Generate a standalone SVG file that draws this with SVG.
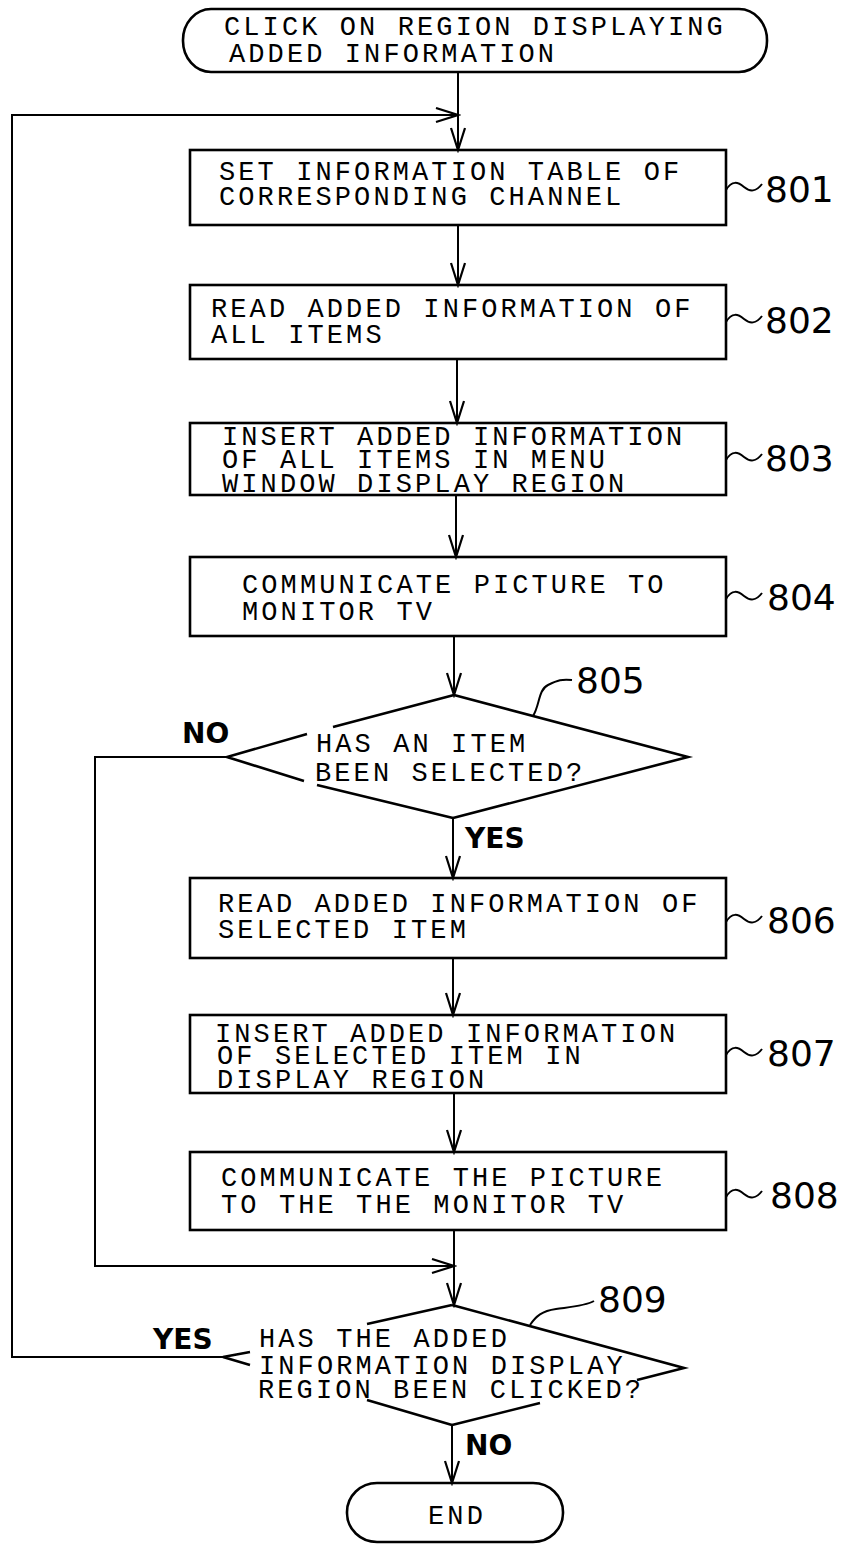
<svg xmlns="http://www.w3.org/2000/svg" width="847" height="1544" viewBox="0 0 847 1544">
<defs>
<style>
.shape{fill:none;stroke:#000;stroke-width:2.6}
.ln{fill:none;stroke:#000;stroke-width:2}
.t{font-family:"Liberation Mono","Courier New",monospace;font-size:27px;letter-spacing:3.1px;fill:#000}
.lab{font-family:"DejaVu Sans","Liberation Sans",sans-serif;font-size:36px;fill:#000}
.yn{font-family:"DejaVu Sans","Liberation Sans",sans-serif;font-weight:bold;font-size:28px;fill:#000}
</style>
<marker id="ah" markerUnits="userSpaceOnUse" markerWidth="26" markerHeight="18" refX="23" refY="8" orient="auto" viewBox="0 0 26 18">
<path d="M1,1 L23,8 L1,15" fill="none" stroke="#000" stroke-width="2.2"/>
</marker>
</defs>
<rect width="847" height="1544" fill="#fff"/>

<g id="connectors">
<path class="ln" d="M458,72 V150" marker-end="url(#ah)"/>
<path class="ln" d="M223,1357 H12 V115 H458" marker-end="url(#ah)"/>
<path class="ln" d="M458,225 V285" marker-end="url(#ah)"/>
<path class="ln" d="M457,359 V423" marker-end="url(#ah)"/>
<path class="ln" d="M456,495 V557" marker-end="url(#ah)"/>
<path class="ln" d="M454,636 V695" marker-end="url(#ah)"/>
<path class="ln" d="M453,818 V878" marker-end="url(#ah)"/>
<path class="ln" d="M453,958 V1015" marker-end="url(#ah)"/>
<path class="ln" d="M454,1093 V1152" marker-end="url(#ah)"/>
<path class="ln" d="M454,1230 V1305" marker-end="url(#ah)"/>
<path class="ln" d="M227,757 H95 V1266 H454" marker-end="url(#ah)"/>
<path class="ln" d="M452,1425 V1483" marker-end="url(#ah)"/>
<text class="yn" x="182" y="743">NO</text>
<text class="yn" x="465" y="848">YES</text>
<text class="yn" x="153" y="1349">YES</text>
<text class="yn" x="465" y="1455">NO</text>
</g>

<g id="start">
<rect class="shape" x="183" y="9" width="584" height="63" rx="28" ry="31"/>
<text class="t" x="224" y="35">CLICK ON REGION DISPLAYING</text>
<text class="t" x="229" y="62">ADDED INFORMATION</text>
</g>

<g id="n801">
<rect class="shape" x="190" y="150" width="536" height="75"/>
<text class="t" x="219" y="180">SET INFORMATION TABLE OF</text>
<text class="t" x="219" y="205">CORRESPONDING CHANNEL</text>
<path class="ln" d="M726,190 C732,180 738,182 744,187 S756,192 762,184"/>
<text class="lab" x="765" y="202">801</text>
</g>

<g id="n802">
<rect class="shape" x="190" y="285" width="536" height="74"/>
<text class="t" x="211" y="317">READ ADDED INFORMATION OF</text>
<text class="t" x="211" y="343">ALL ITEMS</text>
<path class="ln" d="M726,322 C732,312 738,314 744,319 S756,324 762,316"/>
<text class="lab" x="765" y="333">802</text>
</g>

<g id="n803">
<rect class="shape" x="190" y="423" width="536" height="72"/>
<text class="t" x="222" y="445">INSERT ADDED INFORMATION</text>
<text class="t" x="222" y="468">OF ALL ITEMS IN MENU</text>
<text class="t" x="222" y="492">WINDOW DISPLAY REGION</text>
<path class="ln" d="M726,460 C732,450 738,452 744,457 S756,462 762,454"/>
<text class="lab" x="765" y="471">803</text>
</g>

<g id="n804">
<rect class="shape" x="190" y="557" width="536" height="79"/>
<text class="t" x="242" y="593">COMMUNICATE PICTURE TO</text>
<text class="t" x="242" y="620">MONITOR TV</text>
<path class="ln" d="M726,599 C732,589 738,591 744,596 S756,601 762,593"/>
<text class="lab" x="767" y="610">804</text>
</g>

<g id="n805">
<path class="shape" d="M454,695 L688,757 L453,818"/>
<path class="shape" d="M454,695 L333,727 M307,734 L227,757 L304,781 M317,785 L453,818"/>
<text class="t" x="316" y="752">HAS AN ITEM</text>
<text class="t" x="315" y="781">BEEN SELECTED?</text>
<path class="ln" d="M533,716 C540,705 538,690 548,685 S562,679 572,680"/>
<text class="lab" x="576" y="693">805</text>
</g>

<g id="n806">
<rect class="shape" x="190" y="878" width="536" height="80"/>
<text class="t" x="218" y="912">READ ADDED INFORMATION OF</text>
<text class="t" x="218" y="938">SELECTED ITEM</text>
<path class="ln" d="M726,922 C732,912 738,914 744,919 S756,924 762,916"/>
<text class="lab" x="767" y="933">806</text>
</g>

<g id="n807">
<rect class="shape" x="190" y="1015" width="536" height="78"/>
<text class="t" x="215" y="1042">INSERT ADDED INFORMATION</text>
<text class="t" x="217" y="1064">OF SELECTED ITEM IN</text>
<text class="t" x="217" y="1088">DISPLAY REGION</text>
<path class="ln" d="M726,1055 C732,1045 738,1047 744,1052 S756,1057 762,1049"/>
<text class="lab" x="767" y="1066">807</text>
</g>

<g id="n808">
<rect class="shape" x="190" y="1152" width="536" height="78"/>
<text class="t" x="221" y="1186">COMMUNICATE THE PICTURE</text>
<text class="t" x="221" y="1213">TO THE THE MONITOR TV</text>
<path class="ln" d="M726,1197 C732,1187 738,1189 744,1194 S756,1199 762,1191"/>
<text class="lab" x="770" y="1208">808</text>
</g>

<g id="n809">
<path class="shape" d="M452,1305 L684,1368 L637,1380 M540,1403 L452,1425"/>
<path class="shape" d="M452,1305 L367,1324 M250,1352 L223,1357 L250,1365 M367,1400 L452,1425"/>
<text class="t" x="259" y="1347">HAS THE ADDED</text>
<text class="t" x="259" y="1374">INFORMATION DISPLAY</text>
<text class="t" x="258" y="1398" letter-spacing="2.6">REGION BEEN CLICKED?</text>
<path class="ln" d="M530,1325 C536,1316 542,1311 556,1309 S585,1306 594,1301"/>
<text class="lab" x="598" y="1312">809</text>
</g>

<g id="end">
<rect class="shape" x="347" y="1483" width="216" height="59" rx="30" ry="29"/>
<text class="t" x="457" y="1524" text-anchor="middle">END</text>
</g>
</svg>
